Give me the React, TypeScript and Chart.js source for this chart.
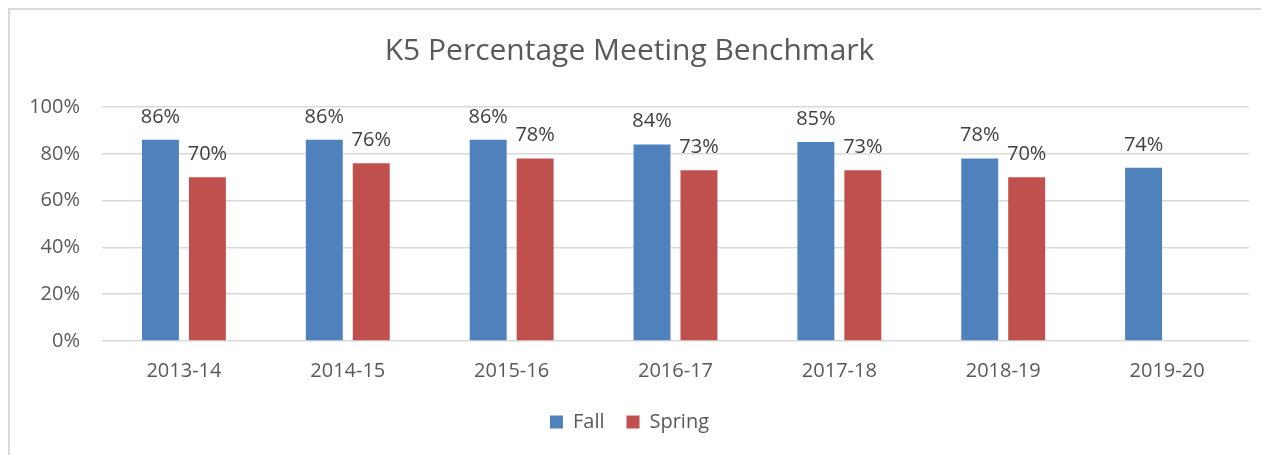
import React, { useEffect, useRef } from 'react';
import { Chart, registerables } from 'chart.js';

Chart.register(...registerables);

const categories = ['2013-14', '2014-15', '2015-16', '2016-17', '2017-18', '2018-19', '2019-20'];
const fallValues = [86, 86, 86, 84, 85, 78, 74];
const springValues: (number | null)[] = [70, 76, 78, 73, 73, 70, null];
const yTickValues = [0, 20, 40, 60, 80, 100];
const seriesNames = ['Fall', 'Spring'];
const chartTitle = 'K5 Percentage Meeting Benchmark';

const FONT = '"Open Sans", "Noto Sans", sans-serif';
const FALL_COLOR = '#4F81BD';
const SPRING_COLOR = '#C0504D';
const TEXT_COLOR = '#595959';

const dataLabelPlugin = {
  id: 'dataLabels',
  afterDatasetsDraw(chart: any) {
    const ctx = chart.ctx;
    ctx.save();
    ctx.font = `20px ${FONT}`;
    ctx.fillStyle = '#404040';
    ctx.textAlign = 'center';
    ctx.textBaseline = 'alphabetic';
    chart.data.datasets.forEach((ds: any, i: number) => {
      const meta = chart.getDatasetMeta(i);
      meta.data.forEach((el: any, j: number) => {
        const v = ds.data[j];
        if (v == null) return;
        ctx.fillText(`${v}%`, el.x, el.y - 17);
      });
    });
    ctx.restore();
  },
};

export default function App() {
  const canvasRef = useRef<HTMLCanvasElement | null>(null);

  useEffect(() => {
    document.documentElement.style.overflow = 'hidden';
    document.body.style.overflow = 'hidden';
    const canvas = canvasRef.current;
    if (!canvas) return;
    const chart = new Chart(canvas, {
      type: 'bar',
      data: {
        labels: categories,
        datasets: [
          {
            label: seriesNames[0],
            data: fallValues,
            backgroundColor: FALL_COLOR,
            categoryPercentage: 0.573,
            barPercentage: 0.787,
          },
          {
            label: seriesNames[1],
            data: springValues,
            backgroundColor: SPRING_COLOR,
            categoryPercentage: 0.573,
            barPercentage: 0.787,
          },
        ],
      },
      options: {
        responsive: false,
        animation: false,
        layout: { padding: { left: 0, right: 20, top: 0, bottom: 13 } },
        plugins: {
          title: {
            display: true,
            text: chartTitle,
            color: TEXT_COLOR,
            font: { family: FONT, size: 30, weight: 'normal' },
            padding: { top: 23, bottom: 38 },
          },
          legend: {
            display: true,
            position: 'bottom',
            labels: {
              color: TEXT_COLOR,
              font: { family: FONT, size: 20 },
              boxWidth: 13,
              boxHeight: 13,
              padding: 22,
            },
          },
          tooltip: { enabled: false },
        },
        scales: {
          x: {
            grid: { display: false, drawTicks: false },
            border: { display: false },
            ticks: {
              color: TEXT_COLOR,
              font: { family: FONT, size: 20 },
              padding: 18,
            },
            afterFit: (s: any) => {
              s.height = 49;
            },
          },
          y: {
            min: 0,
            max: 100,
            afterBuildTicks: (s: any) => {
              s.ticks = yTickValues.map((v) => ({ value: v }));
            },
            grid: { color: '#d9d9d9', lineWidth: 1.5, drawTicks: false },
            border: { display: false },
            ticks: {
              color: TEXT_COLOR,
              font: { family: FONT, size: 20 },
              padding: 22,
              callback: (v: any) => `${v}%`,
            },
            afterFit: (s: any) => {
              s.width = 92;
            },
          },
        },
      },
      plugins: [dataLabelPlugin],
    });
    return () => chart.destroy();
  }, []);

  return (
    <div
      style={{
        position: 'relative',
        width: 1261,
        height: 460,
        borderTop: '2px solid #d9d9d9',
        borderLeft: '2px solid #d9d9d9',
        boxSizing: 'border-box',
        background: '#fff',
      }}
    >
      <canvas ref={canvasRef} width={1259} height={445} style={{ display: 'block' }} />
    </div>
  );
}
